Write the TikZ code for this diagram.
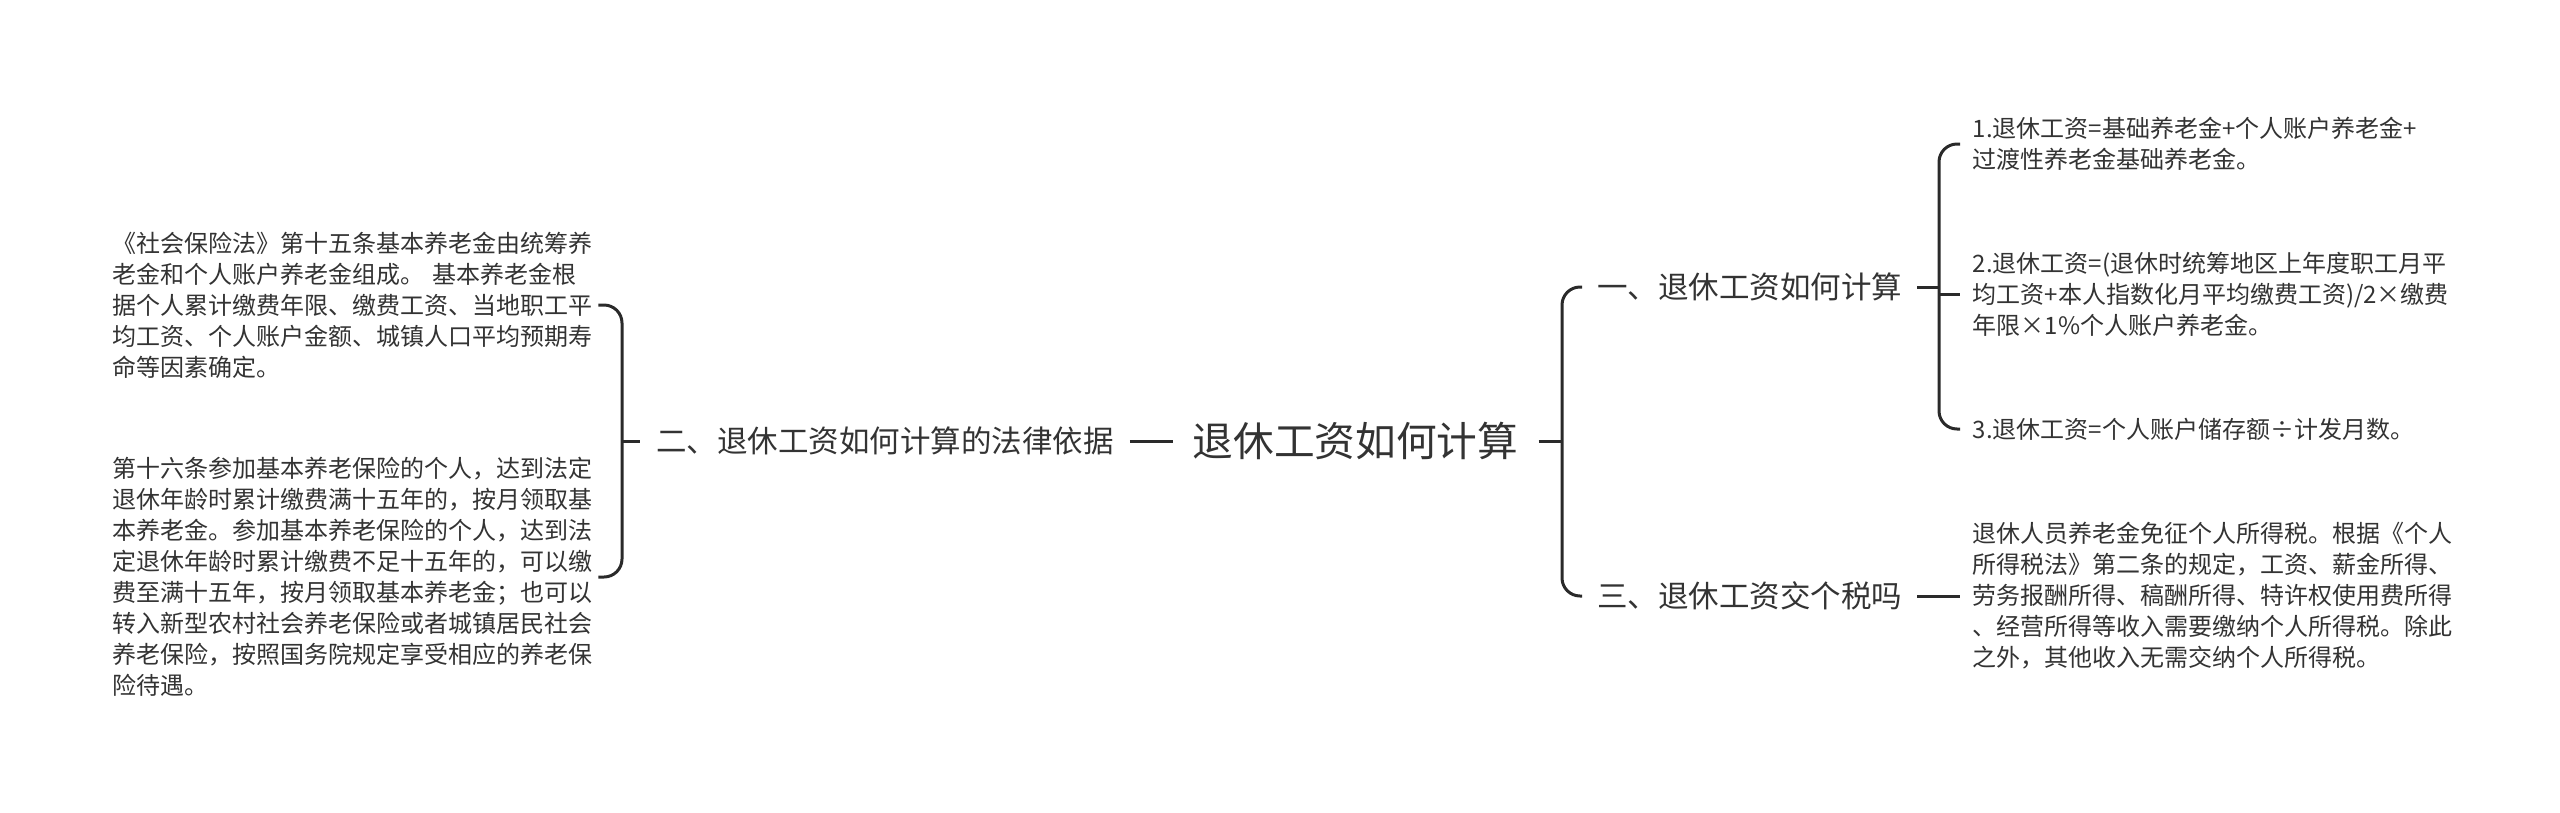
\documentclass[tikz,border=0pt]{standalone}
\usepackage{fontspec}
\setmainfont{Noto Sans CJK SC}
\usetikzlibrary{calc}
\definecolor{txt}{HTML}{333333}
\definecolor{ln}{HTML}{2A2A2A}
\begin{document}
\begin{tikzpicture}[x=1pt,y=-1pt,
  leaf/.style={inner ysep=0pt, align=left, text=txt, font=\fontsize{24}{31}\selectfont},
  leafL/.style={leaf, anchor=west, inner xsep=0pt, text width=486pt},
  leafR/.style={leaf, anchor=west, inner xsep=12.6pt},
  mid/.style={text=txt, inner ysep=0pt, inner xsep=15pt, font=\fontsize{30.5}{36}\selectfont},
  rootn/.style={text=txt, inner ysep=0pt, inner xsep=20pt, font=\fontsize{40.7}{48}\selectfont},
  br/.style={draw=ln, line width=3pt, rounded corners=18pt},
  tick/.style={draw=ln, line width=3pt}]
\useasboundingbox (0,0) rectangle (2560,812);

% central nodes
\node[rootn] (root) at (1355.5,441) {退休工资如何计算};
\node[mid, inner xsep=16pt] (n2) at (885,441) {二、退休工资如何计算的法律依据};
\node[mid, anchor=west] (n1) at (1582,287) {一、退休工资如何计算};
\node[mid, anchor=west] (n3) at (1582,596) {三、退休工资交个税吗};

% left leaves
\node[leafL] (L1) at (112,305) {《社会保险法》第十五条基本养老金由统筹养\\老金和个人账户养老金组成。 基本养老金根\\据个人累计缴费年限、缴费工资、当地职工平\\均工资、个人账户金额、城镇人口平均预期寿\\命等因素确定。};
\node[leafL] (L2) at (112,577) {第十六条参加基本养老保险的个人，达到法定\\退休年龄时累计缴费满十五年的，按月领取基\\本养老金。参加基本养老保险的个人，达到法\\定退休年龄时累计缴费不足十五年的，可以缴\\费至满十五年，按月领取基本养老金；也可以\\转入新型农村社会养老保险或者城镇居民社会\\养老保险，按照国务院规定享受相应的养老保\\险待遇。};

% right leaves
\node[leafR] (R1) at (1960,144) {1.退休工资=基础养老金+个人账户养老金+\\过渡性养老金基础养老金。};
\node[leafR] (R2) at (1960,294) {2.退休工资=(退休时统筹地区上年度职工月平\\均工资+本人指数化月平均缴费工资)/2×缴费\\年限×1\%个人账户养老金。};
\node[leafR] (R3) at (1960,429) {3.退休工资=个人账户储存额÷计发月数。};
\node[leafR] (R4) at (1960,596) {退休人员养老金免征个人所得税。根据《个人\\所得税法》第二条的规定，工资、薪金所得、\\劳务报酬所得、稿酬所得、特许权使用费所得\\、经营所得等收入需要缴纳个人所得税。除此\\之外，其他收入无需交纳个人所得税。};

% spine coordinates
\coordinate (spL) at (622,441);
\coordinate (spR) at (1562,441);
\coordinate (sp1) at (1939,287);

% connectors
\draw[tick] (n2.east) -- (root.west);
\draw[br] (L1.east) -- (L1.east -| spL) -- (L2.east -| spL) -- (L2.east);
\draw[tick] (spL |- n2.west) -- (n2.west);
\draw[tick] (root.east) -- (root.east -| spR);
\draw[br] (n1.west) -- (n1.west -| spR) -- (n3.west -| spR) -- (n3.west);
\draw[tick] (n1.east) -- (n1.east -| sp1);
\draw[br] (R1.west) -- (R1.west -| sp1) -- (R3.west -| sp1) -- (R3.west);
\draw[tick] (sp1 |- R2.west) -- (R2.west);
\draw[tick] (n3.east) -- (R4.west);
\end{tikzpicture}
\end{document}
